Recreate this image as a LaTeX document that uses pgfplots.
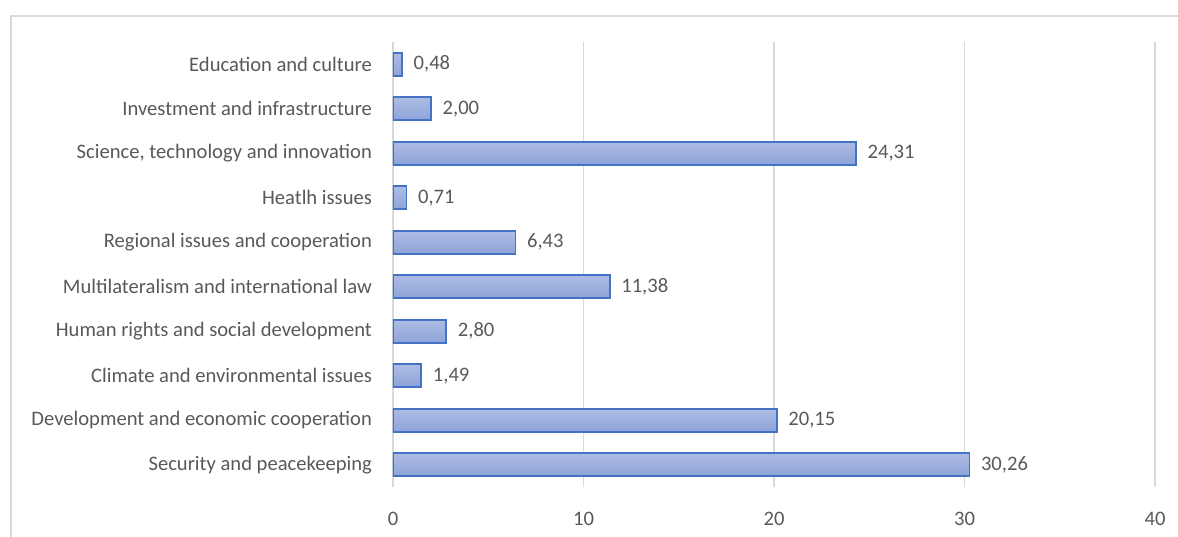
\documentclass[border=0pt]{standalone}
\usepackage{pgfplots}
\pgfplotsset{compat=1.18}
\usepackage{fontspec}
\setmainfont{Carlito}
\definecolor{txt}{HTML}{595959}
\definecolor{grd}{HTML}{D9D9D9}
\definecolor{edge}{HTML}{4472C4}
\definecolor{barTop}{HTML}{ADBCE4}
\definecolor{barBot}{HTML}{8DA4D8}
\tikzset{mybar/.style={draw=edge, line width=0.9pt, top color=barTop, bottom color=barBot}}
\begin{document}
\begin{tikzpicture}
\path[use as bounding box] (0pt,0pt) rectangle (589pt,268pt);
\clip (0pt,0pt) rectangle (589pt,268pt);
\draw[grd, line width=0.6pt] (5.5pt,-20pt) rectangle (620pt,260pt);
\begin{axis}[
  at={(196.5pt,24.5pt)}, anchor=south west,
  scale only axis, width=381pt, height=222.5pt,
  xbar, bar width=11.5pt, bar shift=0pt,
  xmin=0, xmax=40, ymin=-0.5, ymax=9.5,
  xtick={0,10,20,30,40},
  ytick={0,...,9},
  yticklabels={Security and peacekeeping, Development and economic cooperation, Climate and environmental issues, Human rights and social development, Multilateralism and international law, Regional issues and cooperation, Heatlh issues, {Science, technology and innovation}, Investment and infrastructure, Education and culture},
  xmajorgrids, major grid style={grd, line width=0.75pt},
  axis line style={draw=none},
  major tick length=0pt,
  tick label style={font=\fontsize{10.3}{12}\selectfont, text=txt},
  xticklabel style={yshift=-9pt},
  yticklabel style={xshift=-7pt},
  /pgf/number format/assume math mode=true,
  nodes near coords,
  nodes near coords style={font=\fontsize{10.3}{12}\selectfont, text=txt, xshift=2pt,
    /pgf/number format/.cd, fixed, fixed zerofill, precision=2, use comma, assume math mode=true},
]
\addplot[mybar] coordinates {(30.26,0)};
\addplot[mybar] coordinates {(20.15,1)};
\addplot[mybar] coordinates {(1.49,2)};
\addplot[mybar] coordinates {(2.80,3)};
\addplot[mybar] coordinates {(11.38,4)};
\addplot[mybar] coordinates {(6.43,5)};
\addplot[mybar] coordinates {(0.71,6)};
\addplot[mybar] coordinates {(24.31,7)};
\addplot[mybar] coordinates {(2.00,8)};
\addplot[mybar] coordinates {(0.48,9)};
\end{axis}
\end{tikzpicture}
\end{document}
